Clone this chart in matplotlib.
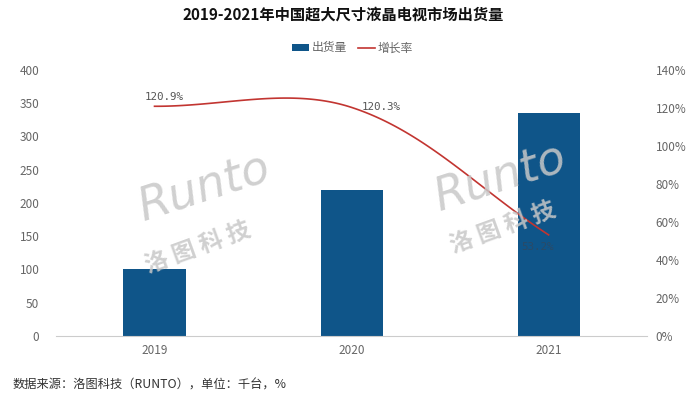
import numpy as np
import matplotlib
matplotlib.use('Agg')
import matplotlib.pyplot as plt
from matplotlib.patches import Patch
from matplotlib.lines import Line2D

plt.rcParams['font.family'] = ['Noto Sans CJK SC', 'DejaVu Sans']

# data
years = ['2019', '2020', '2021']
shipments = [100, 219, 336]          # 千台
growth = [120.9, 120.3, 53.2]        # %
growth_labels = ['120.9%', '120.3%', '53.2%']
left_ticks = list(range(0, 401, 50))
right_ticks = list(range(0, 141, 20))

BAR_COLOR = '#0f5589'
LINE_COLOR = '#c23531'
TEXT_GRAY = '#666666'


# echarts-like smoothing: cubic bezier with control points from neighbours
def smooth_curve(xs, ys, trans, smooth=0.35, n=60):
    pts = trans.transform(np.column_stack([xs, ys]))
    cps = []
    for i in range(len(pts)):
        prev = pts[max(i - 1, 0)]
        nxt = pts[min(i + 1, len(pts) - 1)]
        v = nxt - prev
        d0 = np.linalg.norm(pts[i] - prev)
        d1 = np.linalg.norm(nxt - pts[i])
        tot = d0 + d1
        cps.append((pts[i] - v * smooth * d0 / tot, pts[i] + v * smooth * d1 / tot))
    out = [pts[0]]
    t = np.linspace(0, 1, n)[1:, None]
    for i in range(len(pts) - 1):
        p0, p1, p2, p3 = pts[i], cps[i][1], cps[i + 1][0], pts[i + 1]
        seg = ((1 - t) ** 3) * p0 + 3 * ((1 - t) ** 2) * t * p1 + 3 * (1 - t) * t ** 2 * p2 + t ** 3 * p3
        out.extend(seg)
    out = trans.inverted().transform(np.array(out))
    return out[:, 0], out[:, 1]


fig = plt.figure(figsize=(6.87, 3.99), dpi=100)
ax = fig.add_axes([0.0815, 0.158, 0.8605, 0.6666])
ax2 = ax.twinx()

x = np.arange(len(years))
ax.bar(x, shipments, width=0.315, color=BAR_COLOR, zorder=2)
ax.set_xlim(-0.5, 2.5)
ax.set_ylim(0, 400)
ax.set_yticks(left_ticks)
ax.set_xticks(x)
ax.set_xticklabels(years)
ax.tick_params(axis='y', length=0, pad=12, labelsize=8.5, labelcolor=TEXT_GRAY)
ax.tick_params(axis='x', length=0, pad=6, labelsize=8.5, labelcolor=TEXT_GRAY)
for side in ['left', 'right', 'top']:
    ax.spines[side].set_visible(False)
ax.spines['bottom'].set_color('#cccccc')

ax2.set_ylim(0, 140)
ax2.set_yticks(right_ticks)
ax2.set_yticklabels([f'{v}%' for v in right_ticks])
ax2.tick_params(axis='y', length=0, pad=6, labelsize=8.5, labelcolor=TEXT_GRAY)
for side in ['left', 'right', 'top', 'bottom']:
    ax2.spines[side].set_visible(False)

sx, sy = smooth_curve(x, growth, ax2.transData)
ax2.plot(sx, sy, color=LINE_COLOR, lw=1.2, zorder=5)

label_offsets = [(7, 7), (21, 0), (-8, -9)]
label_colors = ['#555555', '#555555', '#2b4a66']
for xi, yi, lab, off, c in zip(x, growth, growth_labels, label_offsets, label_colors):
    ax2.annotate(lab, (xi, yi), xytext=off, textcoords='offset points',
                 ha='center', va='center', fontsize=7.8, color=c,
                 family='DejaVu Sans Mono', zorder=6)

# watermarks
for (rx, ry), (cx, cy) in [((0.298, 0.530), (0.288, 0.380)), ((0.728, 0.555), (0.732, 0.430))]:
    fig.text(rx, ry, 'Runto', fontsize=33, style='italic', color='#c8c8c8', alpha=0.85,
             rotation=18, ha='center', va='center', family='DejaVu Sans', zorder=10)
    fig.text(cx, cy, '洛 图 科 技', fontsize=17, fontweight='bold', color='#c8c8c8', alpha=0.85,
             rotation=20, ha='center', va='center', zorder=10)

fig.text(0.5, 1 - 15 / 399, '2019-2021年中国超大尺寸液晶电视市场出货量', ha='center', va='center',
         fontsize=11, fontweight='bold', color='#111111')

handles = [Patch(facecolor=BAR_COLOR, edgecolor='none'),
           Line2D([0], [0], color=LINE_COLOR, lw=1.2)]
fig.legend(handles, ['出货量', '增长率'], loc='center', bbox_to_anchor=(0.513, 1 - 48 / 399),
           ncol=2, frameon=False, fontsize=8.5, labelcolor=TEXT_GRAY,
           handlelength=1.4, handleheight=0.6, handletextpad=0.2, columnspacing=1.0)

fig.text(13 / 687, 1 - 385 / 399, '数据来源：洛图科技（RUNTO），单位：千台，%', ha='left', va='center',
         fontsize=8.8, color='#333333')

fig.savefig('out.png', dpi=100)
